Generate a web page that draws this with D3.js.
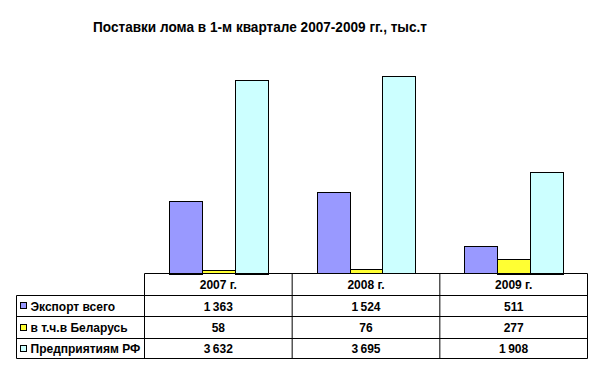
<!DOCTYPE html>
<html><head><meta charset="utf-8">
<script src="https://cdn.jsdelivr.net/npm/d3@7"></script>
<style>body{margin:0;background:#fff}svg{display:block}</style>
</head><body>
<script>
const title = "Поставки лома в 1-м квартале 2007-2009 гг., тыс.т";
const categories = ["2007 г.", "2008 г.", "2009 г."];
const seriesNames = ["Экспорт всего", "в т.ч.в Беларусь", "Предприятиям РФ"];
const exportAll = [1363, 1524, 511];
const belarus = [58, 76, 277];
const russia = [3632, 3695, 1908];
const colors = ["#9999FF", "#FFFF33", "#CCFFFF"];

const series = [exportAll, belarus, russia];
const W = 614, H = 366;
const svg = d3.select("body").append("svg").attr("width", W).attr("height", H);
const fmt = v => d3.format(",")(v).replace(/,/g, "\u2009");

svg.append("text").attr("x", 260).attr("y", 32).attr("text-anchor", "middle")
  .attr("font-family", "Liberation Sans, Arial, sans-serif").attr("font-size", 15.5)
  .attr("font-weight", "bold").attr("textLength", 334).attr("lengthAdjust", "spacingAndGlyphs")
  .attr("fill", "#000").text(title);

const x0 = d3.scaleBand().domain(categories).range([144.5, 587.5]);
const x1 = d3.scaleBand().domain(d3.range(3)).range([0, x0.bandwidth()]).paddingOuter(0.75).paddingInner(0);
const y = d3.scaleLinear().domain([0, 4000]).range([273.5, 60]);

const g = svg.append("g");
categories.forEach((c, ci) => {
  series.forEach((s, si) => {
    g.append("rect")
      .attr("x", Math.round(x0(c) + x1(si)) + 0.5)
      .attr("y", Math.round(y(s[ci])) + 0.5)
      .attr("width", Math.round(x1.bandwidth()))
      .attr("height", Math.max(0, Math.round(y(0) - y(s[ci]))))
      .attr("fill", colors[si]).attr("stroke", "#000").attr("stroke-width", 1);
  });
});

// data table
const rowY = [273.5, 295.5, 316.5, 338.5, 358.5];
const legendX = 16.5;
const t = svg.append("g").attr("fill", "none").attr("stroke", "#000").attr("stroke-width", 1);
t.append("line").attr("x1", x0.range()[0]).attr("x2", x0.range()[1]).attr("y1", rowY[0]).attr("y2", rowY[0]);
for (let i = 1; i < rowY.length; i++) {
  t.append("line").attr("x1", legendX).attr("x2", x0.range()[1]).attr("y1", rowY[i]).attr("y2", rowY[i]);
}
t.append("line").attr("x1", legendX).attr("x2", legendX).attr("y1", rowY[1]).attr("y2", rowY[4]);
categories.forEach(c => {
  t.append("line").attr("x1", x0(c)).attr("x2", x0(c)).attr("y1", rowY[0]).attr("y2", rowY[4]);
});
t.append("line").attr("x1", x0.range()[1]).attr("x2", x0.range()[1]).attr("y1", rowY[0]).attr("y2", rowY[4]);

const txt = svg.append("g").attr("font-family", "Liberation Sans, Arial, sans-serif")
  .attr("font-size", 12).attr("font-weight", "bold").attr("fill", "#000");
categories.forEach(c => {
  txt.append("text").attr("x", x0(c) + x0.bandwidth() / 2).attr("y", (rowY[0] + rowY[1]) / 2 + 4.5)
    .attr("text-anchor", "middle").text(c);
});
series.forEach((s, si) => {
  const cy = (rowY[si + 1] + rowY[si + 2]) / 2;
  svg.append("rect").attr("x", 20.5).attr("y", Math.round(cy - 3) - 0.5).attr("width", 6).attr("height", 6)
    .attr("fill", colors[si]).attr("stroke", "#000").attr("stroke-width", 1);
  txt.append("text").attr("x", 30.5).attr("y", cy + 4.5).text(seriesNames[si]);
  categories.forEach((c, ci) => {
    txt.append("text").attr("x", x0(c) + x0.bandwidth() / 2).attr("y", cy + 4.5)
      .attr("text-anchor", "middle").text(fmt(s[ci]));
  });
});
</script>
</body></html>
